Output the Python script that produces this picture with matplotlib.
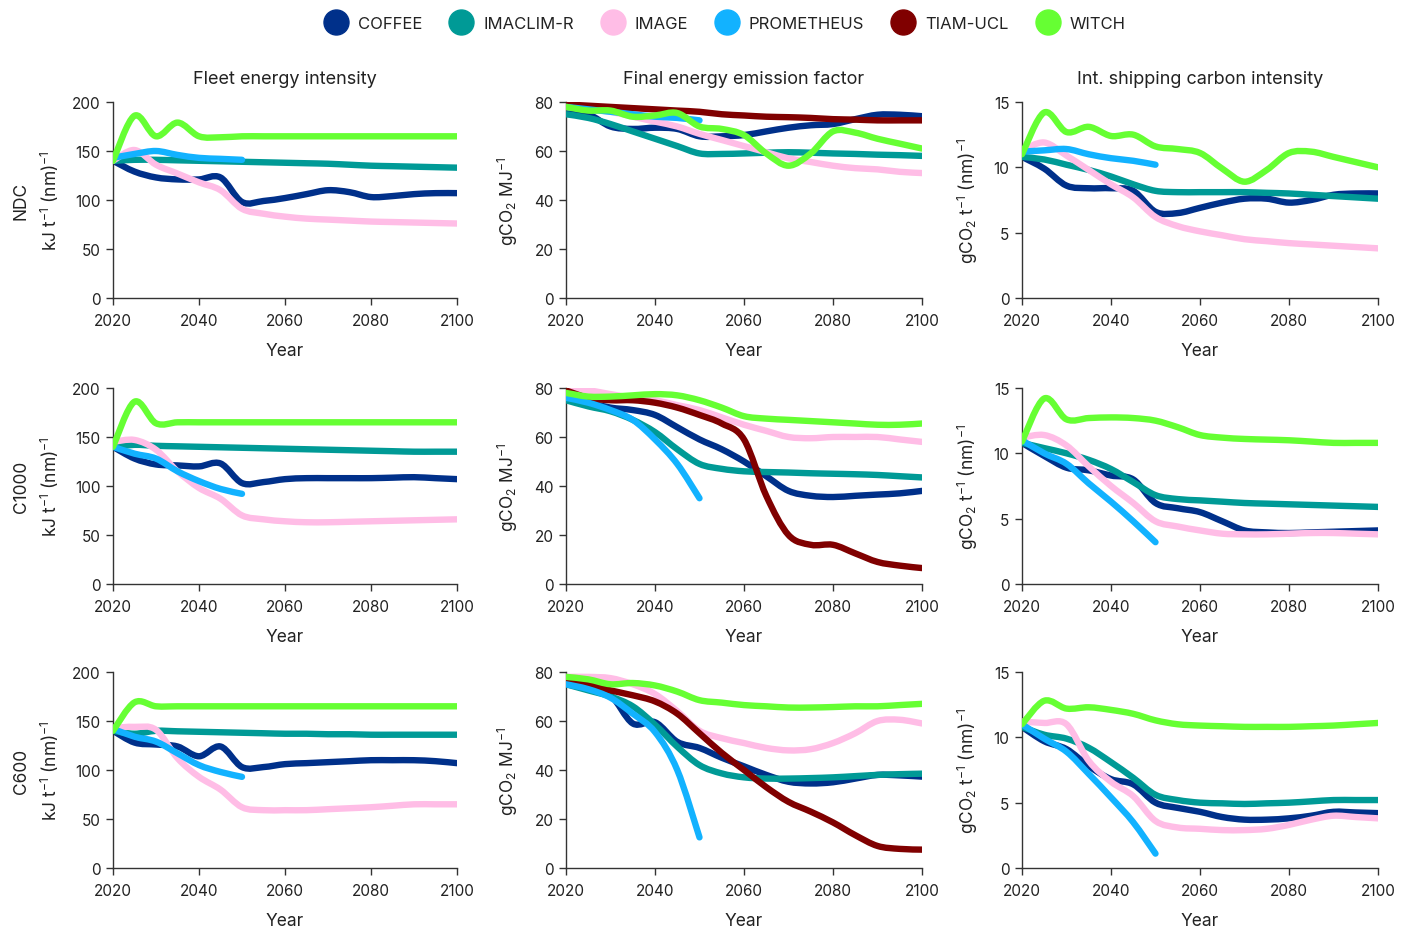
import numpy as np
import matplotlib
matplotlib.use("Agg")
import matplotlib.pyplot as plt
from matplotlib.path import Path
from matplotlib.patches import PathPatch
from matplotlib.lines import Line2D

plt.rcParams["font.family"] = ["Inter", "DejaVu Sans"]
plt.rcParams["mathtext.default"] = "regular"

# model runs reported every 5 years; PROMETHEUS stops in 2050
years = list(range(2020, 2101, 5))
years_prom = years[:7]

models = ["COFFEE", "IMACLIM-R", "IMAGE", "PROMETHEUS", "TIAM-UCL", "WITCH"]
colors = {
    "COFFEE": "#00308a",
    "IMACLIM-R": "#009a96",
    "IMAGE": "#ffbde6",
    "PROMETHEUS": "#12b2ff",
    "TIAM-UCL": "#800000",
    "WITCH": "#66ff33",
}
draw_order = ["COFFEE", "IMACLIM-R", "IMAGE", "TIAM-UCL", "PROMETHEUS", "WITCH"]

scenarios = ["NDC", "C1000", "C600"]
titles = ["Fleet energy intensity", "Final energy emission factor",
          "Int. shipping carbon intensity"]
units = ["kJ t$^{-1}$ (nm)$^{-1}$", "gCO$_2$ MJ$^{-1}$", "gCO$_2$ t$^{-1}$ (nm)$^{-1}$"]
ymax = [200, 80, 15]
ystep = [50, 20, 5]

# fleet energy intensity, kJ per t-nm
fleet_ndc = {
    "COFFEE": [140, 129, 123, 121, 121, 123, 98, 99, 102, 106, 110, 108, 103, 104, 106, 107, 107],
    "IMACLIM-R": [140, 141, 141, 140.5, 140, 139.5, 139, 138.5, 138, 137.5, 137, 136, 135, 134.5, 134, 133.5, 133],
    "IMAGE": [140, 151, 136, 127, 118, 110, 91, 86, 83, 81, 80, 79, 78, 77.5, 77, 76.5, 76],
    "PROMETHEUS": [143, 147, 150, 146, 143, 142, 141],
    "WITCH": [140, 186, 165, 179, 165, 164, 165, 165, 165, 165, 165, 165, 165, 165, 165, 165, 165],
}
fleet_c1000 = {
    "COFFEE": [140, 128, 122, 121, 120, 123, 103, 104, 107, 108, 108, 108, 108, 108.5, 109, 108, 107],
    "IMACLIM-R": [140, 142, 141, 140.5, 140, 139.5, 139, 138.5, 138, 137.5, 137, 136.5, 136, 135.5, 135, 135, 135],
    "IMAGE": [145, 147, 137, 115, 98, 87, 70, 66, 64, 63, 63, 63.5, 64, 64.5, 65, 65.5, 66],
    "PROMETHEUS": [140, 133, 128, 115, 105, 97, 92],
    "WITCH": [140, 186, 164, 165, 165, 165, 165, 165, 165, 165, 165, 165, 165, 165, 165, 165, 165],
}
fleet_c600 = {
    "COFFEE": [140, 128, 126, 124, 114, 124, 103, 103, 106, 107, 108, 109, 110, 110, 110, 109, 107],
    "IMACLIM-R": [140, 137, 140, 139.5, 139, 138.5, 138, 137.5, 137, 137, 136.5, 136.5, 136, 136, 136, 136, 136],
    "IMAGE": [143, 144, 141, 112, 93, 80, 62, 59, 59, 59, 60, 61, 62, 63.5, 65, 65, 65],
    "PROMETHEUS": [142, 134, 129, 117, 105, 98, 93],
    "WITCH": [140, 169, 165, 165, 165, 165, 165, 165, 165, 165, 165, 165, 165, 165, 165, 165, 165],
}

# final energy emission factor, gCO2 per MJ
ef_ndc = {
    "COFFEE": [76, 75, 70, 69, 69.5, 69, 66, 66, 66.5, 68, 69.5, 70.5, 71, 73, 74.8, 74.8, 74.2],
    "IMACLIM-R": [75, 73.5, 71, 68, 65, 62, 59, 58.8, 59, 59.3, 59.5, 59.3, 59, 58.8, 58.5, 58.3, 58],
    "IMAGE": [78, 77, 76, 74, 72, 70, 67, 64.5, 62, 59.5, 57, 55.5, 54, 53, 52.5, 51.5, 51],
    "PROMETHEUS": [78, 77, 76, 75, 74, 73.5, 72.5],
    "TIAM-UCL": [79, 78.5, 78, 77.5, 77, 76.5, 76, 75, 74.5, 74, 73.8, 73.5, 73, 72.8, 72.5, 72.5, 72.5],
    "WITCH": [78, 76.5, 76.5, 74, 74.5, 75.5, 70, 69, 66.5, 59, 54, 59, 68, 67.5, 65, 63, 61],
}
ef_c1000 = {
    "COFFEE": [76, 74, 72, 71, 69, 64, 59, 55, 50, 44, 38, 36, 35.5, 36, 36.5, 37, 38],
    "IMACLIM-R": [75, 72.5, 70.5, 67, 62, 55, 49, 47, 46, 45.7, 45.5, 45.2, 45, 44.8, 44.5, 44, 43.5],
    "IMAGE": [79, 79, 77.5, 76, 75, 73, 71, 68, 65, 62.5, 60, 59.5, 60, 60, 60, 59, 58],
    "PROMETHEUS": [76, 74, 71, 67, 59, 49, 35],
    "TIAM-UCL": [79, 76, 75, 75, 74, 72, 69, 65.5, 59, 36, 20, 16, 16, 12.5, 9, 7.5, 6.5],
    "WITCH": [78, 76.5, 76.5, 77, 77.5, 77, 75, 72, 68.5, 67.5, 67, 66.5, 66, 65.5, 65, 65, 65.5],
}
ef_c600 = {
    "COFFEE": [76, 73, 70.5, 59, 59.5, 51.5, 49, 45, 41.5, 38, 35.2, 34.5, 35, 36.5, 38, 37.8, 37.3],
    "IMACLIM-R": [75, 72.5, 70, 66, 58.5, 49.5, 42, 38.6, 37, 36.5, 36.5, 36.7, 37, 37.5, 38, 38.3, 38.5],
    "IMAGE": [78, 78, 77.5, 75, 71, 64, 56, 53, 51, 49, 48, 48.5, 51, 55, 60, 60.5, 59],
    "PROMETHEUS": [75, 73, 69.5, 63, 55.5, 40, 12.5],
    "TIAM-UCL": [77, 75, 72.5, 70.5, 68, 63, 55, 47, 40, 33, 27, 23, 18.6, 13.4, 9, 7.8, 7.5],
    "WITCH": [78, 77, 75, 75.5, 74.5, 72, 68.5, 67.5, 66.5, 66, 65.5, 65.5, 65.7, 66, 66, 66.5, 67],
}

# international shipping carbon intensity, gCO2 per t-nm
ci_ndc = {
    "COFFEE": [10.8, 9.9, 8.6, 8.4, 8.4, 8.2, 6.6, 6.5, 6.9, 7.3, 7.6, 7.6, 7.3, 7.5, 7.9, 8.0, 8.0],
    "IMACLIM-R": [10.8, 10.6, 10.2, 9.8, 9.3, 8.7, 8.2, 8.1, 8.1, 8.1, 8.1, 8.05, 8.0, 7.9, 7.8, 7.7, 7.6],
    "IMAGE": [11.3, 11.9, 10.9, 9.8, 8.7, 7.7, 6.2, 5.5, 5.1, 4.8, 4.5, 4.35, 4.2, 4.1, 4.0, 3.9, 3.8],
    "PROMETHEUS": [11.2, 11.3, 11.4, 11.0, 10.7, 10.5, 10.2],
    "WITCH": [11.0, 14.2, 12.7, 13.1, 12.4, 12.5, 11.6, 11.4, 11.1, 9.9, 8.9, 9.8, 11.1, 11.2, 10.8, 10.4, 10.0],
}
ci_c1000 = {
    "COFFEE": [10.8, 9.8, 8.9, 8.7, 8.3, 8.0, 6.2, 5.8, 5.5, 4.8, 4.1, 3.95, 3.9, 3.95, 4.0, 4.05, 4.1],
    "IMACLIM-R": [10.8, 10.4, 10.0, 9.5, 8.8, 7.8, 6.8, 6.5, 6.4, 6.3, 6.2, 6.15, 6.1, 6.05, 6.0, 5.95, 5.9],
    "IMAGE": [11.2, 11.4, 10.6, 9.0, 7.5, 6.2, 4.8, 4.4, 4.1, 3.85, 3.8, 3.8, 3.85, 3.9, 3.9, 3.85, 3.8],
    "PROMETHEUS": [11.0, 10.0, 9.2, 7.7, 6.3, 4.8, 3.2],
    "WITCH": [10.9, 14.2, 12.6, 12.7, 12.75, 12.7, 12.5, 12.0, 11.4, 11.2, 11.1, 11.05, 11.0, 10.9, 10.8, 10.8, 10.8],
}
ci_c600 = {
    "COFFEE": [10.8, 9.7, 9.1, 7.8, 6.8, 6.4, 5.0, 4.6, 4.3, 3.9, 3.7, 3.7, 3.8, 4.0, 4.3, 4.25, 4.2],
    "IMACLIM-R": [10.8, 10.2, 9.9, 9.2, 8.1, 6.9, 5.6, 5.2, 5.0, 4.95, 4.9, 4.95, 5.0, 5.1, 5.2, 5.2, 5.2],
    "IMAGE": [11.2, 11.1, 11.0, 8.2, 6.6, 5.5, 3.6, 3.1, 3.0, 2.9, 2.9, 3.0, 3.3, 3.7, 4.0, 3.9, 3.8],
    "PROMETHEUS": [11.0, 9.9, 8.9, 7.2, 5.4, 3.5, 1.1],
    "WITCH": [11.0, 12.8, 12.2, 12.3, 12.1, 11.8, 11.3, 11.0, 10.9, 10.85, 10.8, 10.8, 10.8, 10.85, 10.9, 11.0, 11.1],
}

grid = [
    [fleet_ndc, ef_ndc, ci_ndc],
    [fleet_c1000, ef_c1000, ci_c1000],
    [fleet_c600, ef_c600, ci_c600],
]


def smooth_path(x, y):
    # Catmull-Rom spline through the points, as cubic Bezier segments
    pts = np.column_stack([x, y]).astype(float)
    n = len(pts)
    verts = [pts[0]]
    codes = [Path.MOVETO]
    for i in range(n - 1):
        p0 = pts[i - 1] if i > 0 else pts[i]
        p1, p2 = pts[i], pts[i + 1]
        p3 = pts[i + 2] if i + 2 < n else pts[i + 1]
        verts += [p1 + (p2 - p0) / 6, p2 - (p3 - p1) / 6, p2]
        codes += [Path.CURVE4] * 3
    return Path(verts, codes)


fig = plt.figure(figsize=(14.11, 9.29), dpi=100)

lefts = [113, 566, 1022]
widths = [344, 356, 356]
tops = [103, 389, 673]
height = 196
W, H = 1411, 929

for r in range(3):
    for c in range(3):
        ax = fig.add_axes([lefts[c] / W, 1 - (tops[r] + height) / H, widths[c] / W, height / H])
        data = grid[r][c]
        for z, m in enumerate(draw_order):
            if m not in data:
                continue
            xs = years_prom if m == "PROMETHEUS" else years
            patch = PathPatch(smooth_path(xs, data[m]), fill=False, edgecolor=colors[m],
                              lw=4.6, capstyle="round", joinstyle="round", zorder=2 + z)
            ax.add_patch(patch)
        ax.set_xlim(2020, 2100)
        ax.set_ylim(0, ymax[c])
        ax.set_xticks(range(2020, 2101, 20))
        ax.set_yticks(np.arange(0, ymax[c] + 1, ystep[c]))
        for s in ["top", "right"]:
            ax.spines[s].set_visible(False)
        for s in ["left", "bottom"]:
            ax.spines[s].set_color("#333333")
            ax.spines[s].set_linewidth(1.0)
        ax.tick_params(length=5, width=1.0, color="#333333", labelsize=11,
                       labelcolor="#222222", pad=4)
        ax.tick_params(axis="x", pad=6)
        ax.set_xlabel("Year", fontsize=12.5, labelpad=10, color="#222222")
        if c == 0:
            ax.set_ylabel(scenarios[r] + "\n" + units[c], fontsize=12.5, color="#222222",
                          labelpad=8, linespacing=1.5)
        else:
            ax.set_ylabel(units[c], fontsize=12.5, color="#222222", labelpad=10)
        if r == 0:
            ax.set_title(titles[c], fontsize=13, color="#222222", pad=14)

handles = [Line2D([], [], marker="o", ls="", ms=18, color=colors[m]) for m in models]
fig.legend(handles, models, loc="upper center", bbox_to_anchor=(0.512, 0.998), ncol=6,
           frameon=False, fontsize=12, handletextpad=0.3, columnspacing=1.35,
           labelcolor="#222222")

fig.savefig("out.png", dpi=100)
